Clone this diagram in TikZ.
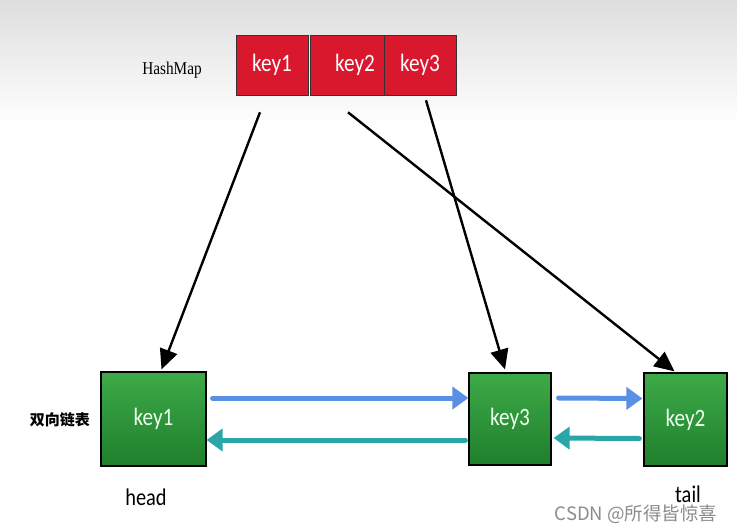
\documentclass[tikz,border=0pt]{standalone}
\usepackage{fontspec}
\setmainfont{Carlito}
\newfontfamily\keyfont[FakeStretch=0.85]{Carlito}
\newfontfamily\serifhm[FakeStretch=0.85]{Liberation Serif}
\newfontfamily\cjk{Noto Sans CJK SC}
\usetikzlibrary{arrows.meta,calc}
\definecolor{hred}{HTML}{D9182D}
\definecolor{gtop}{HTML}{3DAA48}
\definecolor{gbot}{HTML}{1F7F2D}
\definecolor{lblue}{HTML}{5B8FE3}
\definecolor{lteal}{HTML}{2BA6A8}
\tikzset{
  hbox/.style={draw=black!80, line width=0.6pt, fill=hred, text=white, minimum height=60pt, inner sep=0pt, font=\keyfont\fontsize{25}{25}\selectfont},
  lbox/.style={draw=black, line width=1.2pt, top color=gtop, bottom color=gbot, text=white!92!green, inner sep=0pt, font=\keyfont\fontsize{25}{25}\selectfont},
  ptr/.style={draw=black, line width=2.4pt, -{Triangle[length=20pt,width=18pt]}},
  nxt/.style={draw=lblue, line width=5pt, line cap=round, -{Triangle[length=16pt,width=22pt]}},
  prv/.style={draw=lteal, line width=5pt, line cap=round, -{Triangle[length=16pt,width=22pt]}},
  lab/.style={inner sep=0pt}
}
\begin{document}
\begin{tikzpicture}[x=1pt,y=-1pt]
\useasboundingbox (0,0) rectangle (737,531);
\fill[white] (0,0) rectangle (737,531);
\shade[top color=black!13, bottom color=white] (0,0) rectangle (737,125);

\node[lab, font=\serifhm\fontsize{18}{18}\selectfont] (hm) at (172,70) {HashMap};
\node[hbox, minimum width=72pt] (h1) at (272,65) {key1};
\node[hbox, minimum width=74pt] (h2) at (347,65) {\hspace*{16pt}key2};
\node[hbox, minimum width=72pt] (h3) at (420,65) {key3};

\node[lab, font=\cjk\bfseries\fontsize{15}{15}\selectfont] (dl) at (60,420) {双向链表};
\node[lbox, minimum width=105pt, minimum height=94pt] (l1) at (153.5,419) {key1};
\node[lbox, minimum width=82pt, minimum height=92pt] (l3) at (510,419) {key3};
\node[lbox, minimum width=83pt, minimum height=93pt] (l2) at (685.5,419.5) {key2};

\node[lab, font=\keyfont\fontsize{24}{24}\selectfont] (head) at (146,497) {head};
\node[lab, font=\keyfont\fontsize{24}{24}\selectfont] (tail) at (688,494) {tail};

\draw[ptr] ($(h1.south)+(-12,17)$) -- ($(l1.north)+(8,-2)$);
\draw[ptr] ($(h2.south)+(1,17)$) -- ($(l2.north)+(-11,-1)$);
\draw[ptr] ($(h3.south)+(6,5)$) -- ($(l3.north)+(-5,-3)$);

\draw[nxt] ($(l1.east)+(6,-21)$) -- ($(l3.west)+(0,-21)$);
\draw[nxt] ($(l3.east)+(7,-21)$) -- ($(l2.west)+(-1,-21)$);
\draw[prv] ($(l3.west)+(-3,21)$) -- ($(l1.east)+(0,21)$);
\draw[prv] ($(l2.west)+(-4,19)$) -- ($(l3.east)+(2,19)$);

\node[lab, text=black!45, font=\cjk\fontsize{18.5}{18.5}\selectfont] (wm) at (636,514) {CSDN @所得皆惊喜};
\end{tikzpicture}
\end{document}
